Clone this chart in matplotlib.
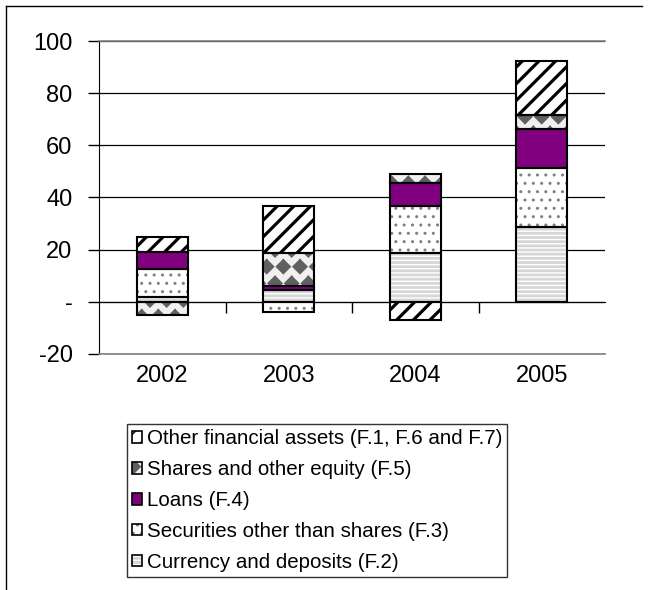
import numpy as np
import matplotlib
matplotlib.use('Agg')
import matplotlib.pyplot as plt
import matplotlib.hatch as mhatch
from matplotlib.path import Path
from matplotlib.patches import Patch
from matplotlib.lines import Line2D

# dane
years = ['2002', '2003', '2004', '2005']
currency = [1.7, 4.5, 18.6, 28.7]
securities = [10.7, -4.0, 18.2, 22.8]
loans = [6.8, 1.7, 8.7, 14.8]
shares = [-5.0, 12.4, 3.7, 5.5]
other = [5.8, 18.3, -7.0, 20.5]

labels = ['Currency and deposits (F.2)',
          'Securities other than shares (F.3)',
          'Loans (F.4)',
          'Shares and other equity (F.5)',
          'Other financial assets (F.1, F.6 and F.7)']

yticks = [-20, 0, 20, 40, 60, 80, 100]
ytick_labels = ['-20', '-', '20', '40', '60', '80', '100']


# wzor "romby" zamiast gwiazdek ('*')
class Diamonds(mhatch.Shapes):
    size = 0.42
    filled = True

    def __init__(self, hatch, density):
        self.num_rows = hatch.count('*') * density
        path = Path.unit_regular_polygon(4)
        self.shape_vertices = path.vertices
        self.shape_codes = np.full(len(self.shape_vertices), Path.LINETO,
                                   dtype=Path.code_type)
        self.shape_codes[0] = Path.MOVETO
        super().__init__(hatch, density)


mhatch._hatch_types = [Diamonds if t is mhatch.Stars else t
                       for t in mhatch._hatch_types]

# styl: (kolor tla, wzor, kolor wzoru, grubosc wzoru)
styles = [
    ('#d6d6d6', '----', 'white', 1.0),
    ('white', '..', '#808080', 1.0),
    ('#800080', None, '#800080', 1.0),
    ('#f0f0f0', '*', '#606060', 1.0),
    ('white', '//', 'black', 2.3),
]

plt.rcParams['font.family'] = ['Liberation Sans', 'DejaVu Sans']

fig = plt.figure(figsize=(6.51, 5.9), dpi=100)
ax = fig.add_axes([99 / 651, 1 - 354 / 590, 506 / 651, 313 / 590])

x = np.arange(len(years))
width = 0.4
pos_base = np.zeros(len(years))
neg_base = np.zeros(len(years))
handles = []
for vals, lab, (face, hatch, hcol, hlw) in zip(
        [currency, securities, loans, shares, other], labels, styles):
    vals = np.array(vals)
    bottoms = np.where(vals >= 0, pos_base, neg_base)
    with plt.rc_context({'hatch.linewidth': hlw}):
        bars = ax.bar(x, vals, width, bottom=bottoms, color=face,
                      edgecolor=hcol, hatch=hatch, linewidth=0, zorder=2)
        for b in bars:
            if hasattr(b, 'set_hatch_linewidth'):
                b.set_hatch_linewidth(hlw)
        ax.bar(x, vals, width, bottom=bottoms, fill=False,
               edgecolor='black', linewidth=1.5, zorder=3)
        p1 = Patch(facecolor=face, edgecolor=hcol, hatch=hatch, linewidth=0)
        if hasattr(p1, 'set_hatch_linewidth'):
            p1.set_hatch_linewidth(min(hlw, 1.5))
    p2 = Patch(fill=False, edgecolor='black', linewidth=1.2)
    handles.append((p1, p2))
    pos_base = pos_base + np.where(vals >= 0, vals, 0)
    neg_base = neg_base + np.where(vals < 0, vals, 0)

ax.set_xlim(-0.5, 3.5)
ax.set_ylim(-20, 100)
ax.set_yticks(yticks)
ax.set_yticklabels(ytick_labels)
ax.set_xticks(x)
ax.set_xticklabels(years)
ax.tick_params(axis='x', length=0, pad=8, labelsize=17)
ax.tick_params(axis='y', length=8, width=1, direction='out', pad=11,
               labelsize=17)
ax.yaxis.grid(True, color='black', linewidth=0.9)
ax.set_axisbelow(True)
ax.spines['right'].set_visible(False)
ax.spines['top'].set_color('#808080')
ax.spines['bottom'].set_color('#808080')
ax.spines['top'].set_linewidth(1.2)
ax.spines['bottom'].set_linewidth(1.2)
ax.spines['left'].set_color('black')

# os kategorii na poziomie zera
sec = ax.secondary_xaxis(0, transform=ax.transData)
sec.set_xticks([0.5, 1.5, 2.5])
sec.tick_params(length=8, width=1, direction='out', labelbottom=False)
sec.spines['bottom'].set_color('black')

leg = fig.legend([h for h in handles[::-1]], labels[::-1],
                 loc='upper left', bbox_to_anchor=(127 / 651, 1 - 424 / 590),
                 fontsize=14.8, frameon=True, fancybox=False, edgecolor='black',
                 borderpad=0.25, labelspacing=0.58, handlelength=0.5,
                 handleheight=0.5, handletextpad=0.2, borderaxespad=0)
leg.get_frame().set_linewidth(1.0)

# ramka wykresu
fig.add_artist(Line2D([6 / 651, 642 / 651], [1 - 6 / 590, 1 - 6 / 590],
                      color='black', linewidth=1, transform=fig.transFigure))
fig.add_artist(Line2D([6 / 651, 6 / 651], [1 - 6 / 590, 0],
                      color='black', linewidth=1, transform=fig.transFigure))

plt.savefig('out.png', dpi=100)
